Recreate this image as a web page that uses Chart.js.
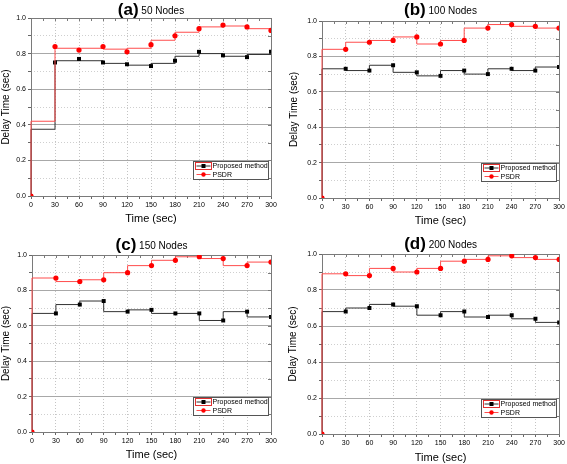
<!DOCTYPE html>
<html>
<head>
<meta charset="utf-8">
<script src="https://cdn.jsdelivr.net/npm/chart.js@4"></script>
<style>
  body { margin: 0; background: #fff; }
  #wrap { position: relative; width: 567px; height: 464px; }
  canvas { position: absolute; }
</style>
</head>
<body>
<div id="wrap">
  <canvas id="chart-a" width="283" height="232" style="left:0;top:0"></canvas>
  <canvas id="chart-b" width="284" height="232" style="left:283px;top:0"></canvas>
  <canvas id="chart-c" width="283" height="232" style="left:0;top:232px"></canvas>
  <canvas id="chart-d" width="284" height="232" style="left:283px;top:232px"></canvas>
</div>
<script>
// sample times (sec)
const times = [0, 30, 60, 90, 120, 150, 180, 210, 240, 270, 300];

// (a) 50 nodes
const proposedA = [0, 0.75, 0.77, 0.75, 0.74, 0.73, 0.76, 0.81, 0.79, 0.78, 0.81];
const psdrA = [0, 0.84, 0.82, 0.84, 0.81, 0.85, 0.90, 0.94, 0.96, 0.95, 0.93];
const proposedStepA = [0.375, 0.76, 0.76, 0.745, 0.735, 0.745, 0.785, 0.80, 0.785, 0.795];
const psdrStepA = [0.42, 0.83, 0.83, 0.825, 0.83, 0.875, 0.92, 0.95, 0.955, 0.94];

// (b) 100 nodes
const proposedB = [0, 0.73, 0.72, 0.75, 0.71, 0.69, 0.72, 0.70, 0.73, 0.72, 0.74];
const psdrB = [0, 0.84, 0.88, 0.89, 0.91, 0.87, 0.89, 0.96, 0.98, 0.97, 0.96];
const proposedStepB = [0.73, 0.72, 0.75, 0.71, 0.69, 0.72, 0.70, 0.73, 0.72, 0.74];
const psdrStepB = [0.84, 0.88, 0.89, 0.91, 0.87, 0.89, 0.96, 0.98, 0.97, 0.96];

// (c) 150 nodes
const proposedC = [0, 0.67, 0.72, 0.74, 0.68, 0.69, 0.67, 0.67, 0.63, 0.68, 0.65];
const psdrC = [0, 0.87, 0.85, 0.86, 0.90, 0.94, 0.97, 0.99, 0.98, 0.94, 0.96];
const proposedStepC = [0.67, 0.72, 0.74, 0.68, 0.69, 0.67, 0.67, 0.63, 0.68, 0.65];
const psdrStepC = [0.87, 0.85, 0.86, 0.90, 0.94, 0.97, 0.99, 0.98, 0.94, 0.96];

// (d) 200 nodes
const proposedD = [0, 0.68, 0.70, 0.72, 0.71, 0.66, 0.68, 0.65, 0.66, 0.64, 0.62];
const psdrD = [0, 0.89, 0.88, 0.92, 0.90, 0.92, 0.96, 0.97, 0.99, 0.98, 0.97];
const proposedStepD = [0.68, 0.70, 0.72, 0.71, 0.66, 0.68, 0.65, 0.66, 0.64, 0.62];
const psdrStepD = [0.89, 0.88, 0.92, 0.90, 0.92, 0.96, 0.97, 0.99, 0.98, 0.97];

const seriesNames = ['Proposed method', 'PSDR'];
const yTicks = [0, 0.2, 0.4, 0.6, 0.8, 1.0];

const RED = '#ff0000';
const RED_LINE = '#ff4d4d';
const BLACK = '#000000';
const BLACK_LINE = '#333333';

const toPoints = (vals) => vals.map((v, i) => ({ x: times[i], y: v }));
const toSteps = (levels) => [{ x: times[0], y: 0 }]
  .concat(levels.map((v, i) => ({ x: times[i], y: v })))
  .concat([{ x: times[times.length - 1], y: levels[levels.length - 1] }]);

// frame + inward ticks on top/right
const frame = {
  id: 'frame',
  beforeDatasetsDraw(chart) {
    const { ctx, chartArea: a, scales } = chart;
    ctx.save();
    ctx.strokeStyle = '#7a7a7a';
    ctx.lineWidth = 1;
    ctx.strokeRect(Math.round(a.left) + 0.5, Math.round(a.top) + 0.5,
      Math.round(a.right - a.left), Math.round(a.bottom - a.top));
    ctx.beginPath();
    scales.x.ticks.forEach(t => {
      const px = Math.round(scales.x.getPixelForValue(t.value)) + 0.5;
      ctx.moveTo(px, a.top);
      ctx.lineTo(px, a.top + 3);
    });
    scales.y.ticks.forEach(t => {
      const py = Math.round(scales.y.getPixelForValue(t.value)) + 0.5;
      ctx.moveTo(a.right, py);
      ctx.lineTo(a.right - 3, py);
    });
    ctx.stroke();
    ctx.restore();
  }
};

// mixed-font panel title
const panelTitle = {
  id: 'panelTitle',
  afterDraw(chart, args, opts) {
    const { ctx, chartArea: a } = chart;
    ctx.save();
    ctx.textBaseline = 'middle';
    ctx.fillStyle = '#000';
    const big = 'bold 17px "Liberation Sans", Arial, sans-serif';
    const small = '10px "Liberation Sans", Arial, sans-serif';
    ctx.font = big;
    const w1 = ctx.measureText(opts.letter).width;
    ctx.font = small;
    const w2 = ctx.measureText(' ' + opts.text).width;
    const x0 = (a.left + a.right) / 2 - (w1 + w2) / 2 + (opts.dx || 0);
    ctx.font = big;
    ctx.fillText(opts.letter, x0, opts.y);
    ctx.font = small;
    ctx.fillText(' ' + opts.text, x0 + w1, opts.y + 1);
    ctx.restore();
  }
};

// boxed legend in the lower right corner of the plot
const boxLegend = {
  id: 'boxLegend',
  afterDatasetsDraw(chart) {
    const { ctx, chartArea: a } = chart;
    const w = 75, h = 18;
    const left = Math.round(a.right - 3 - w) + 0.5;
    const top = Math.round(a.bottom - 17.5 - h) + 0.5;
    ctx.save();
    ctx.fillStyle = '#fff';
    ctx.fillRect(left, top, w, h);
    ctx.strokeStyle = '#555';
    ctx.lineWidth = 1;
    ctx.strokeRect(left, top, w, h);
    const rows = [
      { label: seriesNames[0], line: BLACK_LINE, mark: BLACK, square: true, y: top + 4.5 },
      { label: seriesNames[1], line: RED_LINE, mark: RED, square: false, y: top + 13 }
    ];
    ctx.font = '7px "Liberation Sans", Arial, sans-serif';
    ctx.textBaseline = 'middle';
    rows.forEach(r => {
      ctx.strokeStyle = r.line;
      ctx.beginPath();
      ctx.moveTo(left + 3, r.y);
      ctx.lineTo(left + 17, r.y);
      ctx.stroke();
      ctx.fillStyle = r.mark;
      if (r.square) {
        ctx.fillRect(left + 8, r.y - 2, 4, 4);
      } else {
        ctx.beginPath();
        ctx.arc(left + 10, r.y, 2.2, 0, Math.PI * 2);
        ctx.fill();
      }
      ctx.fillStyle = '#000';
      ctx.fillText(r.label, left + 19, r.y + 0.5);
    });
    // selection box round the first sample
    ctx.strokeStyle = '#e03030';
    ctx.strokeRect(left + 2, top + 1, 16, 7);
    ctx.restore();
  }
};

const tickFont = { family: '"Liberation Sans", Arial, sans-serif', size: 7 };
const titleFont = { family: '"Liberation Sans", Arial, sans-serif', size: 11, lineHeight: 1 };

const renderPanel = (id, g, proposed, psdr, proposedStep, psdrStep) => {
  const canvas = document.getElementById(id);
  if (!canvas) return console.error('Canvas no encontrado');
  const W = canvas.width, H = canvas.height;

  new Chart(canvas.getContext('2d'), {
    type: 'scatter',
    data: {
      datasets: [
        {
          label: seriesNames[1] + ' markers',
          data: toPoints(psdr),
          pointStyle: 'circle',
          pointRadius: 2.6,
          backgroundColor: RED,
          borderWidth: 0,
          showLine: false,
          clip: 0,
          order: 1
        },
        {
          label: seriesNames[1],
          data: toSteps(psdrStep),
          showLine: true,
          stepped: 'before',
          borderColor: RED_LINE,
          borderWidth: 1,
          pointRadius: 0,
          clip: 2,
          order: 2
        },
        {
          label: seriesNames[0] + ' markers',
          data: toPoints(proposed),
          pointStyle: 'rect',
          pointRadius: 2.8,
          backgroundColor: BLACK,
          borderWidth: 0,
          showLine: false,
          clip: 0,
          order: 3
        },
        {
          label: seriesNames[0],
          data: toSteps(proposedStep),
          showLine: true,
          stepped: 'before',
          borderColor: BLACK_LINE,
          borderWidth: 1,
          pointRadius: 0,
          clip: 2,
          order: 4
        }
      ]
    },
    options: {
      responsive: false,
      animation: false,
      layout: { padding: { left: 0, right: W - g.right, top: g.top, bottom: 0 } },
      plugins: {
        legend: { display: false },
        tooltip: { enabled: false },
        panelTitle: { letter: g.letter, text: g.text, y: g.titleY },
      },
      scales: {
        x: {
          type: 'linear',
          min: 0,
          max: 300,
          afterFit: (s) => { s.height = H - g.bottom; },
          ticks: {
            stepSize: 15,
            autoSkip: false,
            maxRotation: 0,
            padding: 2,
            color: '#000',
            font: tickFont,
            callback: (v) => (v % 30 === 0 ? String(v) : '')
          },
          grid: {
            color: (c) => {
              const v = c.tick ? c.tick.value : 0;
              return (v % 30 === 0 && v > 0 && v < 300) ? '#c4c4c4' : 'rgba(0,0,0,0)';
            },
            tickColor: '#666',
            tickLength: 3
          },
          border: { display: false, dash: [1, 2] },
          title: {
            display: true,
            text: 'Time (sec)',
            color: '#000',
            font: titleFont,
            padding: { top: 0, bottom: g.xTitlePad }
          }
        },
        y: {
          min: 0,
          max: 1,
          afterFit: (s) => { s.width = g.left; },
          ticks: {
            stepSize: 0.1,
            autoSkip: false,
            padding: 2,
            color: '#000',
            font: tickFont,
            callback: (v) => {
              const k = Math.round(v * 10);
              return yTicks.some(t => Math.round(t * 10) === k) ? (k / 10).toFixed(1) : '';
            }
          },
          grid: {
            color: (c) => {
              const k = c.tick ? Math.round(c.tick.value * 10) : 0;
              if (k === 0 || k === 10) return 'rgba(0,0,0,0)';
              return k % 2 === 0 ? '#a8a8a8' : '#cfcfcf';
            },
            tickColor: '#666',
            tickLength: 3
          },
          border: {
            display: false,
            dash: (c) => {
              const k = c.tick ? Math.round(c.tick.value * 10) : 0;
              return k % 2 === 0 ? [] : [1, 2];
            }
          },
          title: {
            display: true,
            text: 'Delay Time (sec)',
            color: '#000',
            font: { family: '"Liberation Sans", Arial, sans-serif', size: 10, lineHeight: 1.2 },
            padding: { top: g.yTitlePad, bottom: 0 }
          }
        }
      }
    },
    plugins: [frame, boxLegend, panelTitle]
  });
};

renderPanel('chart-a',
  { letter: '(a)', text: '50 Nodes', left: 31, right: 271, top: 18, bottom: 196, titleY: 10, xTitlePad: 7.5, yTitlePad: 0 },
  proposedA, psdrA, proposedStepA, psdrStepA);
renderPanel('chart-b',
  { letter: '(b)', text: '100 Nodes', left: 39, right: 276, top: 21, bottom: 198, titleY: 10, xTitlePad: 5.5, yTitlePad: 5 },
  proposedB, psdrB, proposedStepB, psdrStepB);
renderPanel('chart-c',
  { letter: '(c)', text: '150 Nodes', left: 32, right: 271, top: 23, bottom: 200, titleY: 13, xTitlePad: 3.8, yTitlePad: 0 },
  proposedC, psdrC, proposedStepC, psdrStepC);
renderPanel('chart-d',
  { letter: '(d)', text: '200 Nodes', left: 39, right: 278, top: 22, bottom: 202, titleY: 12.5, xTitlePad: 1, yTitlePad: 4.5 },
  proposedD, psdrD, proposedStepD, psdrStepD);
</script>
</body>
</html>
